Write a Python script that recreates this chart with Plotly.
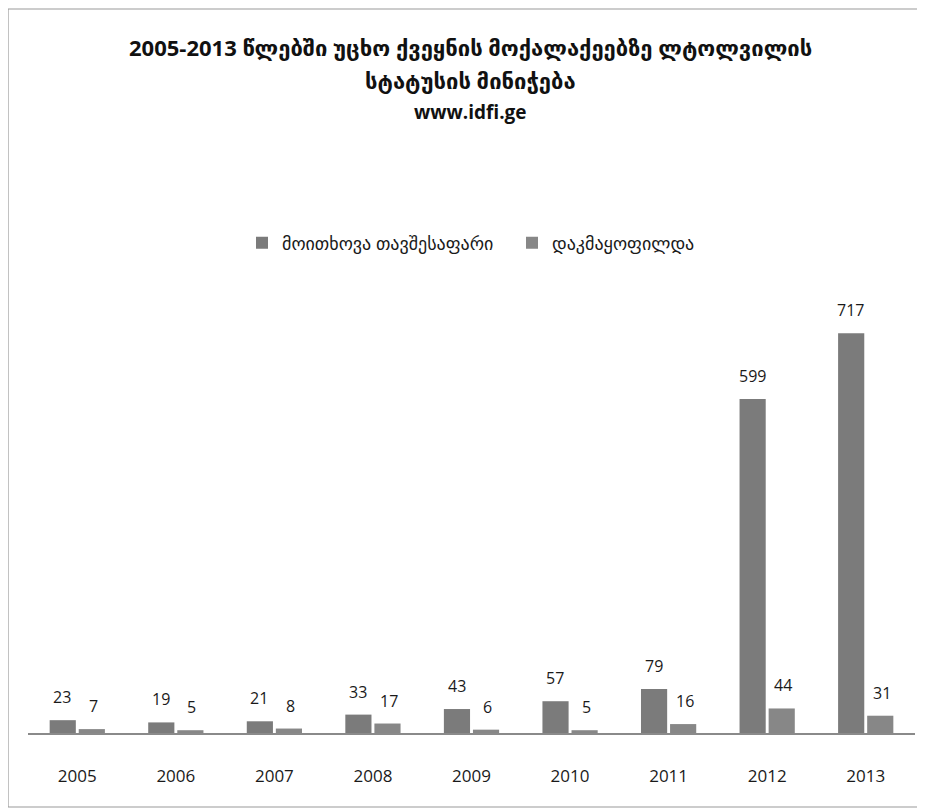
import plotly.graph_objects as go

years = ["2005", "2006", "2007", "2008", "2009", "2010", "2011", "2012", "2013"]
requested = [23, 19, 21, 33, 43, 57, 79, 599, 717]
granted = [7, 5, 8, 17, 6, 5, 16, 44, 31]
series_names = ["მოითხოვა თავშესაფარი", "დაკმაყოფილდა"]
title_lines = [
    "2005-2013 წლებში უცხო ქვეყნის მოქალაქეებზე ლტოლვილის",
    "სტატუსის მინიჭება",
    "www.idfi.ge",
]
title_sizes = [22, 22, 19]

# page body has an 8px offset; positions below are in figure pixels
W, H = 925, 809
ML, MR, MT, MB = 20, 18, 279, 84
PH = H - MT - MB
PW = W - ML - MR

def px_to_paper_y(py):
    return (H - MB - py) / PH

def px_to_paper_x(px):
    return (px - ML) / PW

FONT = "Open Sans, DejaVu Sans, sans-serif"
colors = ["#7b7b7b", "#878787"]

fig = go.Figure()
fig.add_trace(go.Bar(x=years, y=requested, name=series_names[0],
                     marker=dict(color=colors[0], line=dict(width=0))))
fig.add_trace(go.Bar(x=years, y=granted, name=series_names[1],
                     marker=dict(color=colors[1], line=dict(width=0))))

annotations = []
for vals, shift in ((requested, -15), (granted, 16)):
    for i, v in enumerate(vals):
        annotations.append(dict(x=i, y=v, xref="x", yref="y", text=str(v),
                                showarrow=False, xshift=shift, yshift=23,
                                font=dict(size=16, color="#1a1a1a", family=FONT)))

title_y = [39, 72, 104]
for txt, ty, fs in zip(title_lines, title_y, title_sizes):
    annotations.append(dict(x=px_to_paper_x(462), y=px_to_paper_y(ty), xref="paper", yref="paper",
                            text="<b>" + txt + "</b>", showarrow=False,
                            xanchor="center", yanchor="middle",
                            font=dict(size=fs, color="#111", family=FONT)))

fig.update_layout(
    width=W, height=H,
    margin=dict(l=ML, r=MR, t=MT, b=MB, autoexpand=False),
    paper_bgcolor="white", plot_bgcolor="white",
    barmode="group", bargap=0.41, bargroupgap=0.1,
    font=dict(family=FONT, color="#222"),
    showlegend=True,
    legend=dict(orientation="h", x=px_to_paper_x(234), xanchor="left",
                y=px_to_paper_y(235), yanchor="middle",
                font=dict(size=18, color="#1a1a1a", family=FONT),
                itemsizing="constant", itemwidth=30,
                entrywidth=225, entrywidthmode="pixels"),
    annotations=annotations,
    shapes=[dict(type="rect", xref="paper", yref="paper",
                 x0=px_to_paper_x(0), x1=px_to_paper_x(1200),
                 y0=px_to_paper_y(799), y1=px_to_paper_y(1),
                 line=dict(color="#999", width=1.2), layer="below")],
)
fig.update_xaxes(type="category", range=[-0.5, len(years) - 0.5], autorange=False,
                 showline=True, linecolor="#8a8a8a", linewidth=1.5,
                 showgrid=False, ticks="", ticklabelstandoff=27,
                 tickfont=dict(size=17, color="#1a1a1a", family=FONT))
fig.update_yaxes(visible=False, range=[0, 800], autorange=False, showgrid=False, zeroline=False)

fig.write_html("out.html")
